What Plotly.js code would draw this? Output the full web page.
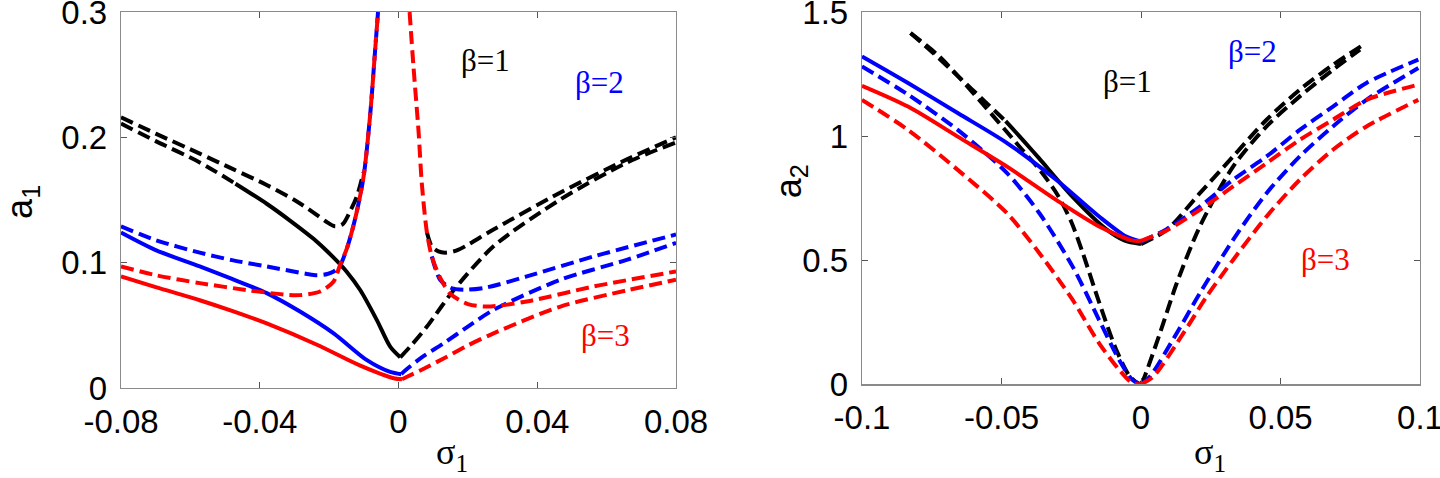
<!DOCTYPE html>
<html>
<head>
<meta charset="utf-8">
<script src="https://cdn.plot.ly/plotly-3.0.1.min.js"></script>
<style>html,body{margin:0;padding:0;background:#fff;}#chart{width:1440px;height:478px;}</style>
</head>
<body>
<div id="chart"></div>
<script>
// ---------- Left panel: a1 vs sigma1 ----------
// beta = 1 (black)
const p1_blk_ul_x = [-0.08, -0.07, -0.0573, -0.048, -0.038, -0.03, -0.0245, -0.021, -0.0183, -0.016, -0.0143, -0.012, -0.0101];
const p1_blk_ul_y = [0.216, 0.203, 0.187, 0.175, 0.162, 0.150, 0.140, 0.133, 0.129, 0.131, 0.139, 0.153, 0.172];
const p1_blk_ll_x = [-0.08, -0.07, -0.0573, -0.047];
const p1_blk_ll_y = [0.211, 0.197, 0.180, 0.163];
const p1_blk_ls_x = [-0.047, -0.038, -0.031, -0.0245, -0.0187, -0.015, -0.011, -0.0062, -0.0024, 0.0005];
const p1_blk_ls_y = [0.163, 0.147, 0.133, 0.119, 0.104, 0.093, 0.078, 0.054, 0.033, 0.0245];
const p1_blk_rl_x = [0.0005, 0.004, 0.0082, 0.0159, 0.0274, 0.0467, 0.066, 0.08];
const p1_blk_rl_y = [0.0245, 0.035, 0.049, 0.078, 0.113, 0.1505, 0.18, 0.196];
const p1_blk_ru_x = [0.0082, 0.0096, 0.0115, 0.0135, 0.017, 0.0274, 0.0467, 0.066, 0.08];
const p1_blk_ru_y = [0.124, 0.113, 0.109, 0.108, 0.110, 0.1265, 0.156, 0.1826, 0.2];
// beta = 2 (blue)
const p1_blu_ul_x = [-0.08, -0.07, -0.0573, -0.048, -0.038, -0.0264, -0.0235, -0.0205, -0.0187, -0.017, -0.0148, -0.0125, -0.0101, -0.0082, -0.0067, -0.0059];
const p1_blu_ul_y = [0.129, 0.118, 0.108, 0.102, 0.097, 0.091, 0.090, 0.091, 0.093, 0.097, 0.112, 0.135, 0.168, 0.217, 0.271, 0.3];
const p1_blu_ls_x = [-0.08, -0.07, -0.0573, -0.048, -0.038, -0.0284, -0.0187, -0.0091, -0.0024, 0.0008];
const p1_blu_ls_y = [0.124, 0.110, 0.097, 0.087, 0.0757, 0.061, 0.0436, 0.0222, 0.0128, 0.011];
const p1_blu_rl_x = [0.0008, 0.002, 0.007, 0.013, 0.02, 0.0274, 0.0467, 0.066, 0.08];
const p1_blu_rl_y = [0.011, 0.0142, 0.025, 0.0356, 0.049, 0.0623, 0.0864, 0.1024, 0.1158];
const p1_blu_ru_x = [0.0096, 0.012, 0.015, 0.0188, 0.025, 0.037, 0.0563, 0.08];
const p1_blu_ru_y = [0.105, 0.0864, 0.080, 0.0784, 0.080, 0.089, 0.105, 0.1225];
// beta = 3 (red)
const p1_red_ul_x = [-0.08, -0.07, -0.0573, -0.0428, -0.0322, -0.0284, -0.0226, -0.0187, -0.017, -0.0148, -0.0125, -0.0101, -0.0082, -0.0067, -0.0059];
const p1_red_ul_y = [0.097, 0.090, 0.0837, 0.0778, 0.0743, 0.0741, 0.077, 0.085, 0.097, 0.112, 0.135, 0.168, 0.217, 0.271, 0.3];
const p1_red_ls_x = [-0.08, -0.07, -0.0573, -0.048, -0.038, -0.0235, -0.011, -0.0014, 0.001];
const p1_red_ls_y = [0.089, 0.0805, 0.0700, 0.0615, 0.0515, 0.0345, 0.0178, 0.0078, 0.007];
const p1_red_rl_x = [0.001, 0.0023, 0.007, 0.013, 0.02, 0.0274, 0.0467, 0.066, 0.08];
const p1_red_rl_y = [0.007, 0.0088, 0.015, 0.0236, 0.034, 0.0436, 0.065, 0.078, 0.0864];
const p1_red_ru_x = [0.0032, 0.0043, 0.0058, 0.0067, 0.0082, 0.0096, 0.012, 0.015, 0.02, 0.0255, 0.037, 0.0563, 0.08];
const p1_red_ru_y = [0.3, 0.257, 0.204, 0.164, 0.124, 0.105, 0.088, 0.075, 0.067, 0.065, 0.069, 0.081, 0.093];

// ---------- Right panel: a2 vs sigma1 ----------
// beta = 1 (black)
const p2_blk_ud_x = [-0.0826, -0.075, -0.065, -0.056, -0.0485];
const p2_blk_ud_y = [1.415, 1.34, 1.235, 1.14, 1.06];
const p2_blk_us_x = [-0.0485, -0.042, -0.0365, -0.0245, -0.0125, -0.006, 0.0];
const p2_blk_us_y = [1.06, 0.98, 0.91, 0.755, 0.625, 0.58, 0.565];
const p2_blk_ld_x = [-0.0826, -0.0723, -0.058, -0.0436, -0.036, -0.030, -0.025, -0.0209, -0.015, -0.0089, -0.0042, -0.0011, 0.0];
const p2_blk_ld_y = [1.415, 1.321, 1.146, 0.958, 0.86, 0.765, 0.655, 0.53, 0.33, 0.14, 0.035, 0.004, 0.0];
const p2_blk_ru_x = [0.0, 0.0092, 0.0211, 0.033, 0.045, 0.0569, 0.0688, 0.0797];
const p2_blk_ru_y = [0.565, 0.622, 0.77, 0.918, 1.066, 1.187, 1.287, 1.368];
const p2_blk_rl_x = [0.0, 0.0008, 0.0068, 0.0128, 0.0211, 0.033, 0.045, 0.0569, 0.0688, 0.0785];
const p2_blk_rl_y = [0.0, 0.017, 0.206, 0.407, 0.636, 0.877, 1.039, 1.16, 1.267, 1.348];
// beta = 2 (blue)
const p2_blu_ls_x = [-0.1, -0.0835, -0.0657, -0.048, -0.0304, -0.015, -0.0053, 0.0];
const p2_blu_ls_y = [1.321, 1.214, 1.093, 0.972, 0.824, 0.676, 0.595, 0.575];
const p2_blu_ld_x = [-0.1, -0.0835, -0.0657, -0.048, -0.0364, -0.0245, -0.015, -0.0078, -0.003, 0.0];
const p2_blu_ld_y = [1.281, 1.167, 1.025, 0.851, 0.689, 0.474, 0.259, 0.098, 0.017, 0.0];
const p2_blu_ru_x = [0.0, 0.0092, 0.0211, 0.033, 0.045, 0.0569, 0.0688, 0.0808, 0.0994];
const p2_blu_ru_y = [0.575, 0.625, 0.716, 0.824, 0.918, 1.025, 1.119, 1.214, 1.308];
const p2_blu_rl_x = [0.0, 0.0032, 0.0128, 0.0211, 0.033, 0.045, 0.0569, 0.0688, 0.0808, 0.0994];
const p2_blu_rl_y = [0.0, 0.031, 0.206, 0.367, 0.582, 0.77, 0.918, 1.039, 1.146, 1.274];
// beta = 3 (red)
const p2_red_ls_x = [-0.1, -0.0835, -0.0657, -0.048, -0.0304, -0.015, -0.003, 0.0];
const p2_red_ls_y = [1.203, 1.119, 0.998, 0.877, 0.743, 0.636, 0.579, 0.578];
const p2_red_ld_x = [-0.1, -0.0835, -0.0657, -0.048, -0.0364, -0.0245, -0.015, -0.0078, -0.003, 0.0];
const p2_red_ld_y = [1.146, 1.025, 0.864, 0.689, 0.528, 0.34, 0.165, 0.058, 0.004, 0.0];
const p2_red_ru_x = [0.0, 0.0092, 0.0211, 0.033, 0.045, 0.0569, 0.0688, 0.0808, 0.0994];
const p2_red_ru_y = [0.578, 0.62, 0.703, 0.797, 0.891, 0.985, 1.066, 1.146, 1.207];
const p2_red_rl_x = [0.0, 0.0044, 0.0152, 0.0235, 0.033, 0.045, 0.0569, 0.0688, 0.0808, 0.0994];
const p2_red_rl_y = [0.0, 0.031, 0.206, 0.353, 0.501, 0.676, 0.824, 0.945, 1.039, 1.146];

// ---------- Ticks and labels ----------
const x1_tickvals = [-0.08, -0.04, 0, 0.04, 0.08];
const x1_ticktext = ['-0.08', '-0.04', '0', '0.04', '0.08'];
const y1_tickvals = [0, 0.1, 0.2, 0.3];
const y1_ticktext = ['0', '0.1', '0.2', '0.3'];
const x2_tickvals = [-0.1, -0.05, 0, 0.05, 0.1];
const x2_ticktext = ['-0.1', '-0.05', '0', '0.05', '0.1'];
const y2_tickvals = [0, 0.5, 1, 1.5];
const y2_ticktext = ['0', '0.5', '1', '1.5'];
const beta_labels = ['β=1', 'β=2', 'β=3'];
const p1_label_x = [0.025, 0.058, 0.0597];
const p1_label_y = [0.261, 0.244, 0.042];
const p2_label_x = [-0.0047, 0.0398, 0.0663];
const p2_label_y = [1.219, 1.34, 0.501];

const BLACK = '#000000', BLUE = '#0000ff', RED = '#ff0000';
const DASH = '13px,6px';
const LW = 4;

function tr(x, y, color, dashed, xa, ya) {
  return {
    type: 'scatter', mode: 'lines', x: x, y: y, xaxis: xa, yaxis: ya,
    line: {color: color, width: LW, dash: dashed ? DASH : 'solid', shape: 'spline', smoothing: 0.8},
    showlegend: false, hoverinfo: 'skip'
  };
}

const traces = [
  tr(p1_blk_ul_x, p1_blk_ul_y, BLACK, true, 'x', 'y'),
  tr(p1_blk_ll_x, p1_blk_ll_y, BLACK, true, 'x', 'y'),
  tr(p1_blk_ls_x, p1_blk_ls_y, BLACK, false, 'x', 'y'),
  tr(p1_blk_rl_x, p1_blk_rl_y, BLACK, true, 'x', 'y'),
  tr(p1_blk_ru_x, p1_blk_ru_y, BLACK, true, 'x', 'y'),
  tr(p1_blu_ul_x, p1_blu_ul_y, BLUE, true, 'x', 'y'),
  tr(p1_blu_ls_x, p1_blu_ls_y, BLUE, false, 'x', 'y'),
  tr(p1_blu_rl_x, p1_blu_rl_y, BLUE, true, 'x', 'y'),
  tr(p1_blu_ru_x, p1_blu_ru_y, BLUE, true, 'x', 'y'),
  tr(p1_red_ul_x, p1_red_ul_y, RED, true, 'x', 'y'),
  tr(p1_red_ls_x, p1_red_ls_y, RED, false, 'x', 'y'),
  tr(p1_red_rl_x, p1_red_rl_y, RED, true, 'x', 'y'),
  tr(p1_red_ru_x, p1_red_ru_y, RED, true, 'x', 'y'),

  tr(p2_blk_ud_x, p2_blk_ud_y, BLACK, true, 'x2', 'y2'),
  tr(p2_blk_us_x, p2_blk_us_y, BLACK, false, 'x2', 'y2'),
  tr(p2_blk_ld_x, p2_blk_ld_y, BLACK, true, 'x2', 'y2'),
  tr(p2_blk_ru_x, p2_blk_ru_y, BLACK, true, 'x2', 'y2'),
  tr(p2_blk_rl_x, p2_blk_rl_y, BLACK, true, 'x2', 'y2'),
  tr(p2_blu_ls_x, p2_blu_ls_y, BLUE, false, 'x2', 'y2'),
  tr(p2_blu_ld_x, p2_blu_ld_y, BLUE, true, 'x2', 'y2'),
  tr(p2_blu_ru_x, p2_blu_ru_y, BLUE, true, 'x2', 'y2'),
  tr(p2_blu_rl_x, p2_blu_rl_y, BLUE, true, 'x2', 'y2'),
  tr(p2_red_ls_x, p2_red_ls_y, RED, false, 'x2', 'y2'),
  tr(p2_red_ld_x, p2_red_ld_y, RED, true, 'x2', 'y2'),
  tr(p2_red_ru_x, p2_red_ru_y, RED, true, 'x2', 'y2'),
  tr(p2_red_rl_x, p2_red_rl_y, RED, true, 'x2', 'y2')
];

const TICKFONT = {family: 'Liberation Sans, Arial, sans-serif', size: 33, color: '#000'};
function axis(extra) {
  return Object.assign({
    showgrid: false, zeroline: false, showline: true, mirror: 'ticks',
    linecolor: '#8a8a8a', linewidth: 1.2, ticks: 'inside', ticklen: 6,
    tickcolor: '#555', tickwidth: 1, tickfont: TICKFONT, tickmode: 'array',
    ticklabeloverflow: 'allow', fixedrange: true
  }, extra);
}

const colors = [BLACK, BLUE, RED];
const SERIF = 'Liberation Serif, Times New Roman, serif';
const annotations = [];
beta_labels.forEach((t, i) => {
  annotations.push({text: t, x: p1_label_x[i], y: p1_label_y[i], xref: 'x', yref: 'y',
    showarrow: false, font: {family: SERIF, size: 31, color: colors[i]}});
  annotations.push({text: t, x: p2_label_x[i], y: p2_label_y[i], xref: 'x2', yref: 'y2',
    showarrow: false, font: {family: SERIF, size: 31, color: colors[i]}});
});
// axis titles
annotations.push({text: 'a<sub>1</sub>', x: 22/1440, y: 0.495, xref: 'paper', yref: 'paper',
  textangle: -90, showarrow: false, xanchor: 'center', yanchor: 'middle',
  font: {family: 'Liberation Sans, Arial, sans-serif', size: 36, color: '#000'}});
annotations.push({text: 'a<sub>2</sub>', x: 791/1440, y: 0.55, xref: 'paper', yref: 'paper',
  textangle: -90, showarrow: false, xanchor: 'center', yanchor: 'middle',
  font: {family: 'Liberation Sans, Arial, sans-serif', size: 36, color: '#000'}});
annotations.push({text: 'σ<sub>1</sub>', x: 452/1440, y: -0.178, xref: 'paper', yref: 'paper',
  showarrow: false, xanchor: 'center', yanchor: 'middle',
  font: {family: SERIF, size: 36, color: '#000'}});
annotations.push({text: 'σ<sub>1</sub>', x: 1210/1440, y: -0.176, xref: 'paper', yref: 'paper',
  showarrow: false, xanchor: 'center', yanchor: 'middle',
  font: {family: SERIF, size: 36, color: '#000'}});

const layout = {
  width: 1440, height: 478,
  margin: {l: 0, r: 0, t: 12, b: 90, pad: 0},
  paper_bgcolor: '#fff', plot_bgcolor: '#fff',
  showlegend: false,
  xaxis: axis({domain: [121/1440, 676/1440], range: [-0.08, 0.08], anchor: 'y',
    tickvals: x1_tickvals, ticktext: x1_ticktext, ticklabelstandoff: 4}),
  yaxis: axis({domain: [0, 1], range: [0, 0.3], anchor: 'x',
    tickvals: y1_tickvals, ticktext: y1_ticktext, ticklabelstandoff: 6}),
  xaxis2: axis({domain: [862/1440, 1420/1440], range: [-0.1, 0.1], anchor: 'y2',
    tickvals: x2_tickvals, ticktext: x2_ticktext, ticklabelstandoff: 4}),
  yaxis2: axis({domain: [3.7/376, 1], range: [0, 1.5], anchor: 'x2',
    tickvals: y2_tickvals, ticktext: y2_ticktext, ticklabelstandoff: 6}),
  annotations: annotations
};

Plotly.newPlot('chart', traces, layout, {displayModeBar: false, staticPlot: true});
</script>
</body>
</html>
